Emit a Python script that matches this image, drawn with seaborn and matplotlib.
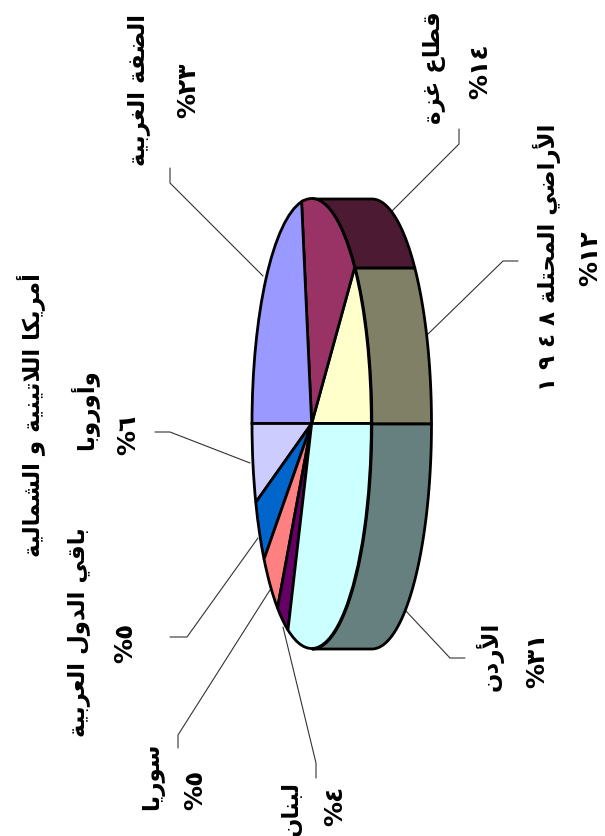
#!/usr/bin/env python3
# -*- coding: utf-8 -*-
"""
3D style pie chart, page turned on its side
"""

import re

import numpy as np
import matplotlib.pyplot as plt
import seaborn as sns

W, H = 605, 836

# data, in drawing order from the right edge of the pie going counterclockwise
regions = ['الأراضي المحتلة ١٩٤٨', 'قطاع غزة', 'الضفة الغربية',
           'أمريكا اللاتينية و الشمالية', 'باقي الدول العربية', 'سوريا', 'لبنان', 'الأردن']
# printed labels
shares = [12, 14, 23, 6, 5, 5, 4, 31]
# slice sizes (they differ a little from the printed labels)
slice_sizes = [12.2, 15.5, 22.3, 5.7, 4.6, 5.0, 3.2, 31.5]
colors = ['#FFFFCC', '#993366', '#9999FF', '#CCCCFF', '#0066CC', '#FF8080', '#660066', '#CCFFFF']
extra_line = 'وأوروبا'

# label centers in pixels: (x, y) of name, (x, y) of percent
name_pos = [(547, 257), (435, 68), (139, 90), (31, 415), (78, 632), (153, 776), (291, 808), (490, 656)]
pct_pos = [(590, 258), (480, 71), (188, 90), (128, 435), (125, 643), (195, 790), (335, 806), (537, 660)]
extra_pos = (85, 410)

# leader lines in pixels
leaders = [
    [(518, 261), (503, 261), (427, 335)],
    [(459, 129), (459, 144), (391, 212)],
    [(170, 168), (170, 183), (263, 276)],
    [(155, 432), (170, 432), (250, 463)],
    [(170, 637), (187, 637), (258, 538)],
    [(178, 748), (178, 735), (270, 590)],
    [(316, 778), (316, 763), (283, 627)],
    [(465, 658), (450, 658), (405, 610)],
]

# arabic letter forms: isolated, final, initial, medial (matplotlib does no shaping)
FORMS = {
    'ا': (0xFE8D, 0xFE8E), 'أ': (0xFE83, 0xFE84), 'ب': (0xFE8F, 0xFE90, 0xFE91, 0xFE92),
    'ة': (0xFE93, 0xFE94), 'ت': (0xFE95, 0xFE96, 0xFE97, 0xFE98), 'ح': (0xFEA1, 0xFEA2, 0xFEA3, 0xFEA4),
    'د': (0xFEA9, 0xFEAA), 'ر': (0xFEAD, 0xFEAE), 'ز': (0xFEAF, 0xFEB0),
    'س': (0xFEB1, 0xFEB2, 0xFEB3, 0xFEB4), 'ش': (0xFEB5, 0xFEB6, 0xFEB7, 0xFEB8),
    'ض': (0xFEBD, 0xFEBE, 0xFEBF, 0xFEC0), 'ط': (0xFEC1, 0xFEC2, 0xFEC3, 0xFEC4),
    'ع': (0xFEC9, 0xFECA, 0xFECB, 0xFECC), 'غ': (0xFECD, 0xFECE, 0xFECF, 0xFED0),
    'ف': (0xFED1, 0xFED2, 0xFED3, 0xFED4), 'ق': (0xFED5, 0xFED6, 0xFED7, 0xFED8),
    'ك': (0xFED9, 0xFEDA, 0xFEDB, 0xFEDC), 'ل': (0xFEDD, 0xFEDE, 0xFEDF, 0xFEE0),
    'م': (0xFEE1, 0xFEE2, 0xFEE3, 0xFEE4), 'ن': (0xFEE5, 0xFEE6, 0xFEE7, 0xFEE8),
    'و': (0xFEED, 0xFEEE), 'ي': (0xFEF1, 0xFEF2, 0xFEF3, 0xFEF4),
}
LAM_ALEF = {'ا': (0xFEFB, 0xFEFC), 'أ': (0xFEF7, 0xFEF8)}


def joins_next(ch):
    return ch in FORMS and len(FORMS[ch]) == 4


def shape(text):
    """logical arabic string -> glyphs in left to right order"""
    out = []
    i = 0
    while i < len(text):
        ch = text[i]
        prev = text[i - 1] if i else ''
        nxt = text[i + 1] if i + 1 < len(text) else ''
        if ch not in FORMS:
            out.append(ch)
            i += 1
            continue
        from_prev = joins_next(prev)
        if ch == 'ل' and nxt in LAM_ALEF:
            out.append(chr(LAM_ALEF[nxt][1 if from_prev else 0]))
            i += 2
            continue
        forms = FORMS[ch]
        to_next = joins_next(ch) and nxt in FORMS
        if len(forms) == 2:
            code = forms[1 if from_prev else 0]
        elif from_prev and to_next:
            code = forms[3]
        elif from_prev:
            code = forms[1]
        elif to_next:
            code = forms[2]
        else:
            code = forms[0]
        out.append(chr(code))
        i += 1
    visual = ''.join(reversed(out))
    # digit runs stay left to right, with the wide spacing of the original
    return re.sub('[٠-٩]+', lambda m: ' '.join(m.group(0)[::-1]), visual)


def pct_label(value):
    return '%' + str(value).translate(str.maketrans('0123456789', '٠١٢٣٤٥٦٧٨٩'))


def main():
    sns.set_theme(style='white')
    plt.rcParams['font.family'] = ['DejaVu Sans']

    palette = sns.color_palette(colors)
    dark = [tuple(c * 0.5 for c in col) for col in palette]

    fig = plt.figure(figsize=(W / 100, H / 100), dpi=100)

    # pixel layer for labels and leader lines
    bg = fig.add_axes([0, 0, 1, 1])
    bg.set_xlim(0, W)
    bg.set_ylim(H, 0)
    bg.axis('off')

    for line in leaders:
        xs, ys = zip(*line)
        bg.plot(xs, ys, color='#333333', lw=0.8)

    for name, n_xy, value, p_xy in zip(regions, name_pos, shares, pct_pos):
        bg.text(*n_xy, shape(name), rotation=90, ha='center', va='center',
                fontsize=16.5, fontweight='bold', color='black')
        bg.text(*p_xy, pct_label(value), rotation=90, ha='center', va='center',
                fontsize=18, fontweight='bold', color='black')
    bg.text(*extra_pos, shape(extra_line), rotation=90, ha='center', va='center',
            fontsize=16.5, fontweight='bold', color='black')

    # pie layer: x runs -1..2 (face plus depth), y runs -1..1
    left, right, top, bottom = 252, 431, 198.5, 648.5
    ax = fig.add_axes([left / W, 1 - bottom / H, (right - left) / W, (bottom - top) / H])
    ax.patch.set_alpha(0)

    # visible rim: the part of each slice on the right half of the ellipse
    depth = 1.0
    edges = np.concatenate([[0], np.cumsum(slice_sizes)]) / np.sum(slice_sizes) * 360
    for start, end, col in zip(edges[:-1], edges[1:], dark):
        for lo, hi in [(start, min(end, 90)), (max(start, 270), end)]:
            if hi <= lo:
                continue
            t = np.radians(np.linspace(lo, hi, 80))
            ax.fill_betweenx(np.sin(t), np.cos(t), np.cos(t) + depth, facecolor=col,
                             edgecolor='black', linewidth=2.0, clip_on=False, zorder=1)

    wedges, _ = ax.pie(slice_sizes, colors=palette, startangle=0, counterclock=True, radius=1,
                       wedgeprops={'edgecolor': 'black', 'linewidth': 2.0, 'clip_on': False})
    for w in wedges:
        w.set_zorder(2)

    ax.set_aspect('auto')
    ax.set_xlim(-1, 2)
    ax.set_ylim(-1, 1)
    ax.axis('off')

    fig.savefig('out.png', dpi=100)
    plt.close(fig)


if __name__ == '__main__':
    main()
